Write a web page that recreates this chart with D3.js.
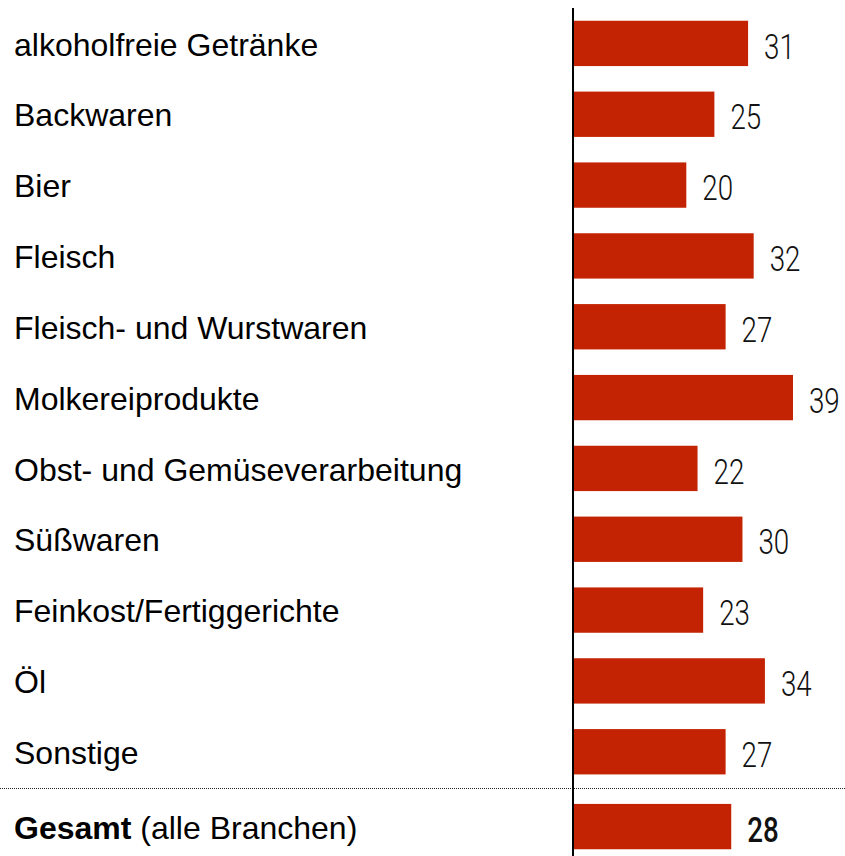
<!DOCTYPE html>
<html>
<head>
<meta charset="utf-8">
<script src="https://cdn.jsdelivr.net/npm/d3@7"></script>
<style>
  body { margin: 0; background: #fff; }
  svg { display: block; }
</style>
</head>
<body>
<svg id="chart"></svg>
<script>
const categories = [
  "alkoholfreie Getränke", "Backwaren", "Bier", "Fleisch",
  "Fleisch- und Wurstwaren", "Molkereiprodukte", "Obst- und Gemüseverarbeitung",
  "Süßwaren", "Feinkost/Fertiggerichte", "Öl", "Sonstige"
];
const values = [31, 25, 20, 32, 27, 39, 22, 30, 23, 34, 27];
const totalLabel = "Gesamt";
const totalNote = " (alle Branchen)";
const totalValue = 28;

const width = 845, height = 856;
const svg = d3.select("#chart").attr("width", width).attr("height", height);

const axisX = 573;
const x = d3.scaleLinear().domain([0, 39]).range([axisX + 1, 793]);

const rows = categories.concat([totalLabel]);
const y = d3.scaleBand()
  .domain(d3.range(rows.length))
  .range([8, 858])
  .paddingInner(0.36)
  .paddingOuter(0.18);

const barColor = "#c32303";
const numSquash = 0.77;       // value labels are narrow
const data = values.map((v, i) => ({ name: categories[i], value: v, i }));

const valG = svg.append("g").attr("transform", `scale(${numSquash},1)`);

// category labels
svg.selectAll("text.cat")
  .data(data)
  .join("text")
  .attr("class", "cat")
  .attr("x", 14)
  .attr("y", d => y(d.i) + y.bandwidth() / 2)
  .attr("dy", "0.38em")
  .attr("font-family", "Liberation Sans, Arial, sans-serif")
  .attr("font-size", 32)
  .attr("fill", "#000")
  .text(d => d.name);

// bars
svg.selectAll("rect.bar")
  .data(data)
  .join("rect")
  .attr("class", "bar")
  .attr("x", x(0))
  .attr("y", d => y(d.i))
  .attr("width", d => x(d.value) - x(0))
  .attr("height", y.bandwidth())
  .attr("fill", barColor);

// value labels
valG.selectAll("text.val")
  .data(data)
  .join("text")
  .attr("class", "val")
  .attr("x", d => (x(d.value) + 16) / numSquash)
  .attr("y", d => y(d.i) + y.bandwidth() / 2)
  .attr("dy", "0.42em")
  .attr("font-family", "Roboto, sans-serif")
  .attr("font-weight", 300)
  .attr("font-size", 36)
  .attr("fill", "#111")
  .text(d => d.value);

// total row
const ti = rows.length - 1;
const shift = 4;
const ty = y(ti) + shift;
const tl = svg.append("text")
  .attr("x", 14)
  .attr("y", ty + y.bandwidth() / 2)
  .attr("dy", "0.38em")
  .attr("font-family", "Liberation Sans, Arial, sans-serif")
  .attr("font-size", 32)
  .attr("fill", "#000");
tl.append("tspan").attr("font-weight", "bold").text(totalLabel);
tl.append("tspan").text(totalNote);

svg.append("rect")
  .attr("x", x(0))
  .attr("y", ty)
  .attr("width", x(totalValue) - x(0))
  .attr("height", y.bandwidth())
  .attr("fill", barColor);

valG.append("text")
  .attr("x", (x(totalValue) + 16) / numSquash)
  .attr("y", ty + y.bandwidth() / 2)
  .attr("dy", "0.42em")
  .attr("font-family", "Roboto, sans-serif")
  .attr("font-weight", 500)
  .attr("font-size", 36)
  .attr("fill", "#111")
  .text(totalValue);

// dotted separator
const sepY = 788.5;
svg.append("line")
  .attr("x1", 0).attr("x2", width)
  .attr("y1", sepY).attr("y2", sepY)
  .attr("stroke", "#222")
  .attr("stroke-width", 1)
  .attr("stroke-dasharray", "1,1");

// axis line
svg.append("line")
  .attr("x1", axisX).attr("x2", axisX)
  .attr("y1", 8).attr("y2", height)
  .attr("stroke", "#000")
  .attr("stroke-width", 2);
</script>
</body>
</html>
